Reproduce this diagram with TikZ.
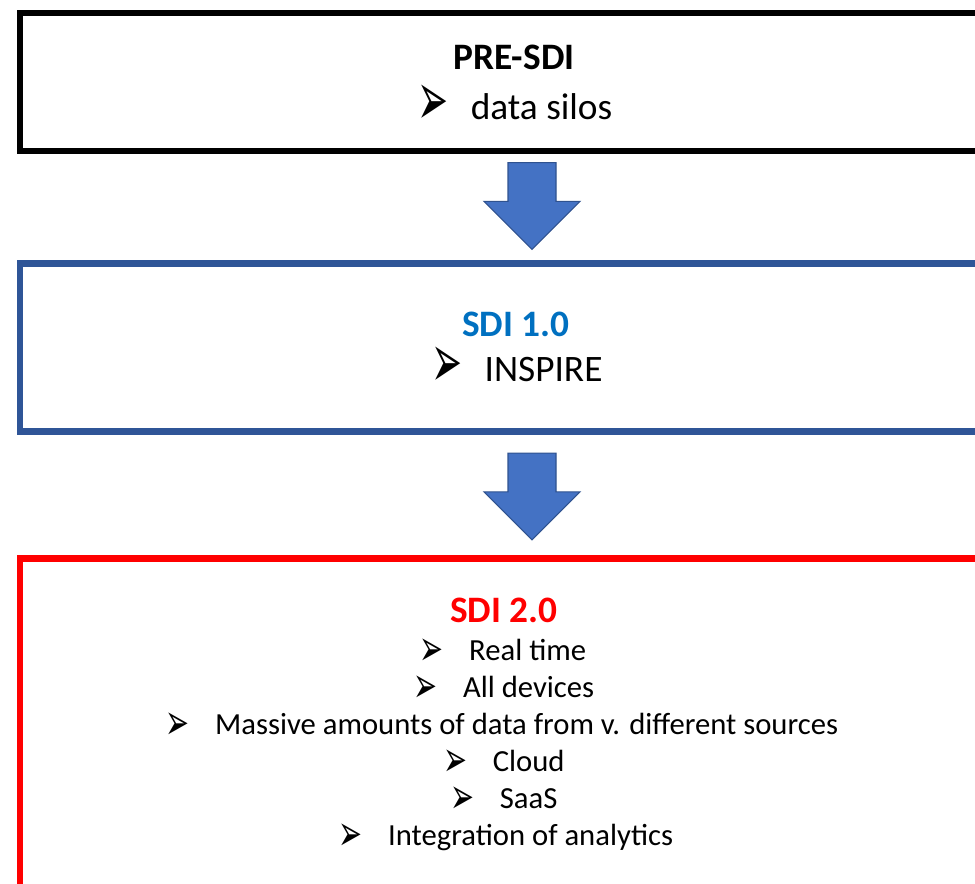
\documentclass[tikz,border=0pt]{standalone}
\usepackage{fontspec}
\setmainfont{Carlito}
\newfontfamily\arrowfont{DejaVu Sans}
\usepackage{tikz}
\usetikzlibrary{shapes.arrows}
\usetikzlibrary{positioning}
\definecolor{blockblue}{HTML}{4472C4}
\definecolor{blockedge}{HTML}{2F528F}
\definecolor{stageblue}{HTML}{2F5597}
\definecolor{titleblue}{HTML}{0070C0}
\definecolor{stagered}{HTML}{FF0000}
\newcommand{\bigpoint}{\raisebox{-4pt}{\resizebox{23.3pt}{30.4pt}{\arrowfont\char"27A2}}\hspace{16.5pt}}
\newcommand{\smallpoint}{\raisebox{-4pt}{\resizebox{18pt}{20pt}{\arrowfont\char"27A2}}\hspace{19pt}}
\tikzset{
  stage/.style={rectangle, draw=#1, line width=5pt, anchor=north west, minimum width=1000pt, inner sep=0pt},
  down/.style={single arrow, shape border rotate=270, fill=blockblue, draw=blockedge, line width=0.8pt, inner sep=17.6pt, minimum height=65pt, single arrow head extend=18pt, single arrow head indent=0pt},
  head/.style={anchor=base, inner sep=0pt, font=\fontsize{28}{34}\selectfont\bfseries},
  bigitem/.style={anchor=base, inner sep=0pt, font=\fontsize{28}{34}\selectfont},
  item/.style={anchor=base, inner sep=0pt, font=\fontsize{23}{27}\selectfont}
}

\begin{document}
\begin{tikzpicture}[x=0.75pt, y=-0.75pt]
\useasboundingbox (0,0) rectangle (975,884);
% the three stages
\node [stage=black, minimum height=103.4pt] (pre) at (16.7, 9.7) {};
\node [stage=stageblue, minimum height=125.6pt] (sdia) at (16.7, 260.5) {};
\node [stage=stagered, minimum height=300pt] (sdib) at (16.7, 555) {};
% block arrows between them
\node [down] (arrA) at (532, 194) {};
\node [down] (arrB) at (532, 484.5) {};
% texts
\node [head] (preT) at (514, 70) {PRE-SDI};
\node [bigitem] (silos) at (515, 120) {\bigpoint data silos};
\node [head, text=titleblue] (sdiaT) at (516, 337) {SDI 1.0};
\node [bigitem] (inspire) at (517, 382) {\bigpoint INSPIRE};
\node [head, text=stagered] (sdibT) at (504, 622) {SDI 2.0};
\node [item] (realtime) at (503, 660) {\smallpoint Real time};
\node [item] (devices) at (504, 697) {\smallpoint All devices};
\node [item] (massive) at (502, 734) {\smallpoint Massive amounts of data from v. different sources};
\node [item] (cloud) at (504, 771) {\smallpoint Cloud};
\node [item] (saas) at (504, 808) {\smallpoint SaaS};
\node [item] (analytics) at (506, 845) {\smallpoint Integration of analytics};
\end{tikzpicture}
\end{document}
